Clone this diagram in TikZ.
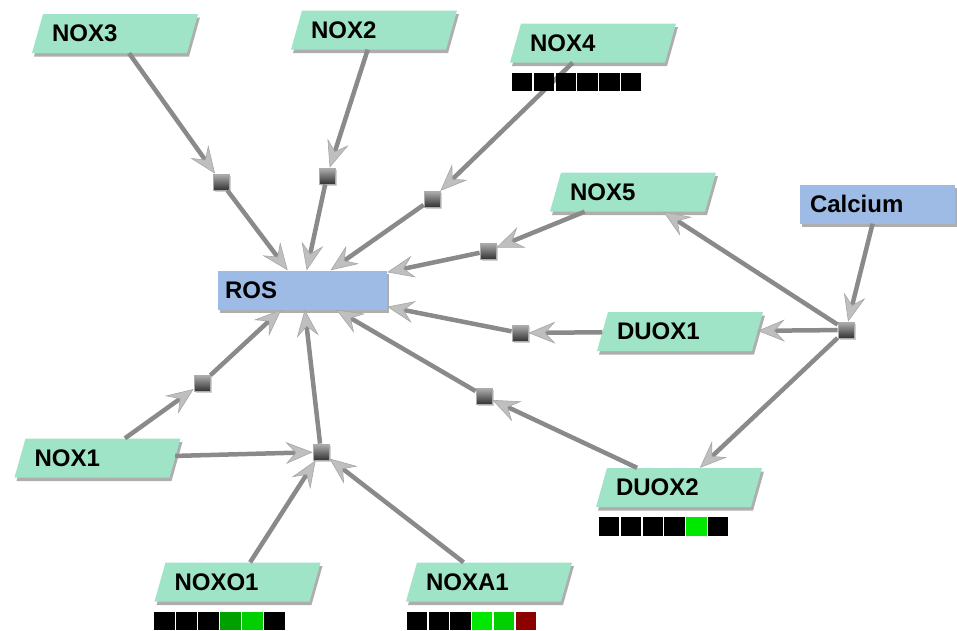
\documentclass[tikz,border=0pt]{standalone}
\usepackage{fontspec}
\setmainfont{Liberation Sans}
\usetikzlibrary{arrows.meta,shadows}

\definecolor{genefill}{RGB}{160,228,200}
\definecolor{molfill}{RGB}{157,187,229}
\definecolor{edgegray}{RGB}{138,138,138}
\definecolor{lvgreen}{RGB}{0,232,0}
\definecolor{lvmid}{RGB}{0,208,0}
\definecolor{lvdark}{RGB}{0,160,0}
\definecolor{lvred}{RGB}{140,0,0}

\tikzset{
  labelfont/.style={font=\bfseries\fontsize{24}{24}\selectfont},
  boxshadow/.style={drop shadow={shadow xshift=2pt, shadow yshift=-3.5pt, fill=gray!85, opacity=0.75}},
  genebody/.style={fill=genefill, boxshadow},
  genetext/.style={rectangle, minimum width=155pt, minimum height=39pt,
    text width=126pt, align=left, inner xsep=14.5pt, inner ysep=0pt, labelfont},
  molecule/.style={rectangle, minimum height=39pt, align=left, inner ysep=0pt,
    fill=molfill, labelfont, boxshadow},
  proc/.style={rectangle, minimum size=16pt, inner sep=0pt, draw=gray!65, line width=0.8pt,
    top color=gray!62, middle color=gray!55, bottom color=black!80,
    drop shadow={shadow xshift=1.5pt, shadow yshift=-1.5pt, fill=gray!60, opacity=0.6}},
  conn/.style={draw=edgegray, line width=4.5pt,
    -{Stealth[length=27pt, width=22pt, inset=10pt, line width=0.6pt, color=gray!70, fill=gray!50]}},
}

% slanted gene box: name, centre x, centre y, label
\newcommand\genebox[4]{%
  \path[genebody] (#2-83,#3+19.5) -- (#2+72,#3+19.5) -- (#2+83,#3-19.5) -- (#2-72,#3-19.5) -- cycle;
  \node[genetext] (#1) at (#2,#3) {#4};
}

\begin{document}
\begin{tikzpicture}[x=1pt, y=-1pt]
\useasboundingbox (0,0) rectangle (957,630);

% species
\genebox{nox3}{115}{33.5}{NOX3}
\genebox{nox2}{374}{30}{NOX2}
\genebox{nox4}{593}{43}{NOX4}
\genebox{nox5}{633}{192}{NOX5}
\genebox{duox1}{680}{331.5}{DUOX1}
\genebox{nox1}{97.5}{458}{NOX1}
\genebox{noxo1}{237.5}{582}{NOXO1}
\genebox{duox2}{679}{487.5}{DUOX2}
\genebox{noxa1}{489}{582}{NOXA1}
\node[molecule, minimum width=169pt, text width=155pt, inner xsep=7pt] (ros) at (302.5,290) {ROS};
\node[molecule, minimum width=155pt, text width=135pt, inner xsep=10pt] (calcium) at (877.5,204) {Calcium};

% reaction points
\node[proc] (p3) at (221,182) {};
\node[proc] (p2) at (327,176) {};
\node[proc] (p4) at (432,199) {};
\node[proc] (p5) at (488,251) {};
\node[proc] (pd1) at (520,333) {};
\node[proc] (pd2) at (484,396) {};
\node[proc] (pn1) at (202,383) {};
\node[proc] (pmix) at (321,452) {};
\node[proc] (pca) at (846,330) {};

% production of ROS
\draw[conn] (nox3) -- (p3);
\draw[conn] (p3) -- (ros);
\draw[conn] (nox2) -- (p2);
\draw[conn] (p2) -- (ros);
\draw[conn] (nox4) -- (p4);
\draw[conn] (p4) -- (ros);
\draw[conn] (nox5) -- (p5);
\draw[conn] (p5) -- (ros);
\draw[conn] (duox1) -- (pd1);
\draw[conn] (pd1) -- (ros);
\draw[conn] (duox2) -- (pd2);
\draw[conn] (pd2) -- (ros);
\draw[conn] (nox1) -- (pn1);
\draw[conn] (pn1) -- (ros);
\draw[conn] (nox1) -- (pmix);
\draw[conn] (noxo1) -- (pmix);
\draw[conn] (noxa1) -- (pmix);
\draw[conn] (pmix) -- (ros);

% calcium activation
\draw[conn] (calcium) -- (pca);
\draw[conn] (pca) -- (nox5);
\draw[conn] (pca) -- (duox1);
\draw[conn] (pca) -- (duox2);

% expression level bars
\foreach \c [count=\i from 0] in {black,black,black,black,black,black}
  \fill[\c] (512+\i*21.8,73) rectangle ++(20.3,18);
\foreach \c [count=\i from 0] in {black,black,black,black,lvgreen,black}
  \fill[\c] (599+\i*21.8,517) rectangle ++(20.3,19);
\foreach \c [count=\i from 0] in {black,black,black,lvdark,lvmid,black}
  \fill[\c] (154+\i*22,612) rectangle ++(20.5,18);
\foreach \c [count=\i from 0] in {black,black,black,lvgreen,lvmid,lvred}
  \fill[\c] (407+\i*21.7,612) rectangle ++(20.2,18);
\end{tikzpicture}
\end{document}
